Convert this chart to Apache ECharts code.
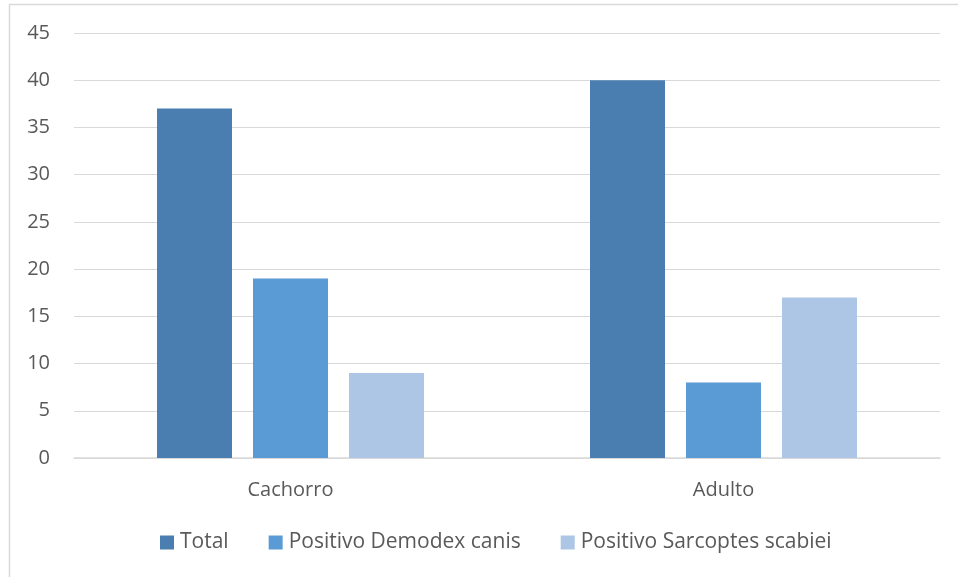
<!DOCTYPE html>
<html>
<head>
<meta charset="utf-8">
<script src="https://cdn.jsdelivr.net/npm/echarts@6/dist/echarts.min.js"></script>
<style>
  html, body { margin: 0; padding: 0; background: #ffffff; }
  #chart { width: 958px; height: 577px; }
</style>
</head>
<body>
<div id="chart"></div>
<script>
// Age groups on the category axis
const categories = ['Cachorro', 'Adulto'];

// Counts per group
const totalValues = [37, 40];
const demodexValues = [19, 8];
const sarcoptesValues = [9, 17];

// Series names shown in the legend
const seriesNames = ['Total', 'Positivo Demodex canis', 'Positivo Sarcoptes scabiei'];

const FONT = '"Open Sans", "Noto Sans", sans-serif';
const TEXT = '#595959';
const GRID = '#d9d9d9';
const FS = 20;

const chart = echarts.init(document.getElementById('chart'), null, { renderer: 'canvas' });

function bar(name, data, color) {
  return {
    name: name,
    type: 'bar',
    data: data,
    barWidth: 75,
    barGap: '28%',
    itemStyle: { color: color },
    emphasis: { disabled: true }
  };
}

chart.setOption({
  animation: false,
  backgroundColor: '#ffffff',
  textStyle: { fontFamily: FONT },
  graphic: [{
    type: 'rect',
    shape: { x: 9.5, y: 4.5, width: 1000, height: 1000 },
    style: { fill: 'none', stroke: GRID, lineWidth: 1.5 },
    silent: true,
    z: -1
  }],
  grid: { left: 74, right: 18, top: 33, bottom: 119, containLabel: false },
  legend: {
    bottom: 19,
    left: 155,
    itemWidth: 14,
    itemHeight: 14,
    itemGap: 40,
    icon: 'rect',
    textStyle: { color: TEXT, fontSize: 21, fontFamily: FONT, padding: [0, 0, 0, 1] },
    data: seriesNames
  },
  xAxis: {
    type: 'category',
    data: categories,
    axisTick: { show: false },
    axisLine: { lineStyle: { color: GRID, width: 1.5 } },
    axisLabel: { color: TEXT, fontSize: FS, fontFamily: FONT, margin: 22 }
  },
  yAxis: {
    type: 'value',
    min: 0,
    max: 45,
    interval: 5,
    axisLine: { show: false },
    axisTick: { show: false },
    splitLine: { lineStyle: { color: GRID, width: 1 } },
    axisLabel: { color: TEXT, fontSize: FS, fontFamily: FONT, margin: 24 }
  },
  series: [
    bar(seriesNames[0], totalValues, '#4a7eb1'),
    bar(seriesNames[1], demodexValues, '#5b9bd5'),
    bar(seriesNames[2], sarcoptesValues, '#adc6e5')
  ]
});
</script>
</body>
</html>
